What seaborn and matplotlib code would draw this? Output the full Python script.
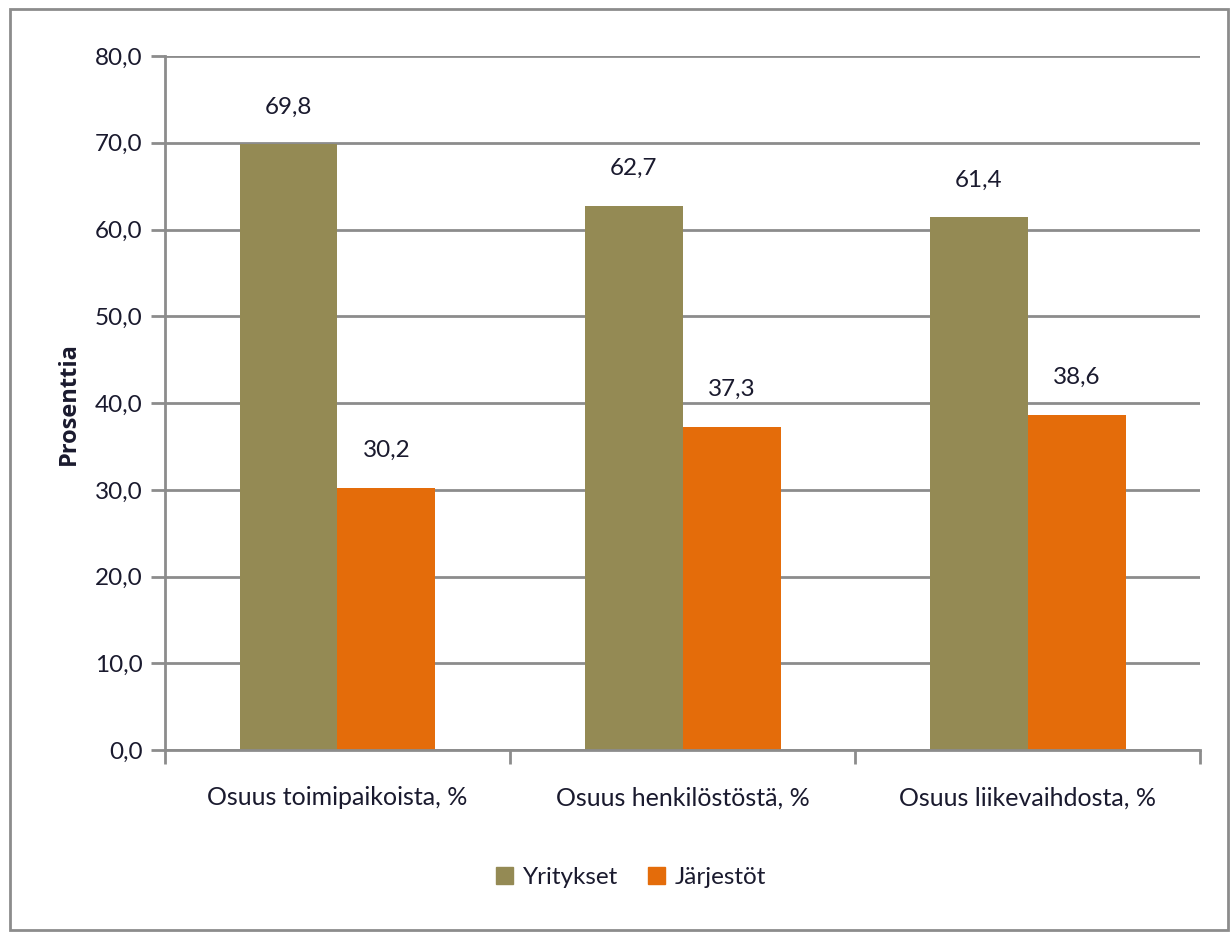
import matplotlib
matplotlib.use("Agg")
import matplotlib.pyplot as plt
from matplotlib.patches import Rectangle
from matplotlib.ticker import FixedLocator, FuncFormatter
import seaborn as sns
import pandas as pd

categories = ["Osuus toimipaikoista, %", "Osuus henkilöstöstä, %", "Osuus liikevaihdosta, %"]
yritykset = [69.8, 62.7, 61.4]
jarjestot = [30.2, 37.3, 38.6]
series_names = ["Yritykset", "Järjestöt"]

df = pd.DataFrame({
    "kategoria": categories * 2,
    "arvo": yritykset + jarjestot,
    "sarja": [series_names[0]] * 3 + [series_names[1]] * 3,
})

sns.set_theme(style="white")
plt.rcParams["font.family"] = ["Liberation Sans Narrow", "Lato", "DejaVu Sans"]

text_color = "#1a1a2e"
grid_color = "#8c8c8c"
palette = {"Yritykset": "#948A54", "Järjestöt": "#E46C0A"}

fig = plt.figure(figsize=(12.3, 9.32), dpi=100)
ax = fig.add_axes([0.134, 0.195, 0.842, 0.745])

sns.barplot(data=df, x="kategoria", y="arvo", hue="sarja", palette=palette,
            width=0.567, gap=0, saturation=1, linewidth=0, ax=ax, legend=False, zorder=3)

ax.set_ylim(0, 80)
ax.set_xlim(-0.5, 2.5)
ax.yaxis.set_major_locator(FixedLocator([0, 10, 20, 30, 40, 50, 60, 70, 80]))
ax.yaxis.set_major_formatter(FuncFormatter(lambda v, p: f"{v:.1f}".replace(".", ",")))
ax.grid(axis="y", color=grid_color, linewidth=2, zorder=0)
ax.set_axisbelow(True)

for s in ["top", "right"]:
    ax.spines[s].set_visible(False)
for s in ["left", "bottom"]:
    ax.spines[s].set_color(grid_color)
    ax.spines[s].set_linewidth(2)
    ax.spines[s].set_zorder(4)

ax.tick_params(axis="y", which="major", direction="out", length=10, width=2,
               color=grid_color, labelsize=17.5, labelcolor=text_color, pad=6, left=True)
ax.tick_params(axis="x", which="major", length=0, labelsize=18, labelcolor=text_color, pad=26)
ax.xaxis.set_minor_locator(FixedLocator([-0.5, 0.5, 1.5, 2.5]))
ax.tick_params(axis="x", which="minor", direction="out", length=10, width=2,
               color=grid_color, bottom=True)

ax.set_xlabel("")
ax.set_ylabel("Prosenttia", fontsize=17, fontweight="bold", color=text_color,
              family=["Open Sans", "DejaVu Sans"], labelpad=10)

for cont in ax.containers:
    for bar in cont:
        h = bar.get_height()
        ax.annotate(f"{h:.1f}".replace(".", ","),
                    (bar.get_x() + bar.get_width() / 2, h),
                    xytext=(0, 27), textcoords="offset points",
                    ha="center", va="center", fontsize=17.5, color=text_color)

handles = [Rectangle((0, 0), 1, 1, color=palette[n]) for n in series_names]
fig.legend(handles, series_names, loc="center", bbox_to_anchor=(0.513, 0.059),
           ncol=2, frameon=False, fontsize=17.5, handlelength=0.7, handleheight=0.7,
           handletextpad=0.4, columnspacing=1.2, labelcolor=text_color)

fig.patches.append(Rectangle((0.008, 0.002), 0.99, 0.988, transform=fig.transFigure,
                             fill=False, edgecolor="#8c8c8c", linewidth=2))

fig.savefig("out.png", dpi=100)
